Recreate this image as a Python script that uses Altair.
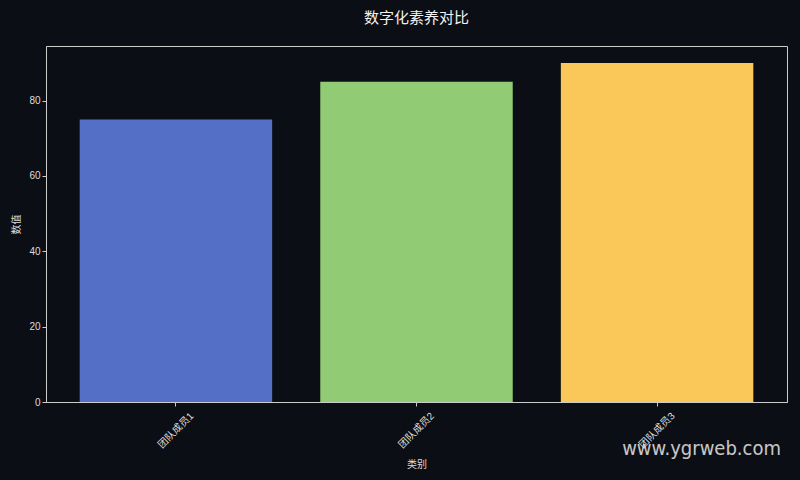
import altair as alt
import pandas as pd

categories = ["团队成员1", "团队成员2", "团队成员3"]
values = [75, 85, 90]
colors = ["#5470c6", "#91cc75", "#fac858"]

df = pd.DataFrame({"类别": categories, "数值": values})

FONT = "Liberation Sans, Noto Sans CJK SC"
TXT = "#dddddd"
BG = "#0b0e14"

bars = alt.Chart(df).mark_bar().encode(
    x=alt.X("类别:N", sort=categories,
            scale=alt.Scale(paddingInner=0.2, paddingOuter=0.14),
            axis=alt.Axis(labelAngle=-45, labelAlign="center", labelBaseline="middle",
                          labelPadding=24, tickSize=4, title="类别", titlePadding=10)),
    y=alt.Y("数值:Q", scale=alt.Scale(domain=[0, 94.5], nice=False),
            axis=alt.Axis(values=[0, 20, 40, 60, 80], tickSize=4, title="数值",
                          titlePadding=7, grid=False)),
    color=alt.Color("类别:N", scale=alt.Scale(domain=categories, range=colors), legend=None),
)

wm = alt.Chart(pd.DataFrame({"t": ["www.ygrweb.com"]})).mark_text(
    align="right", baseline="middle", fontSize=20, color="#e8e8e8", opacity=0.85,
    font="DejaVu Sans Condensed, DejaVu Sans"
).encode(text="t:N", x=alt.value(735), y=alt.value(403))

chart = alt.layer(bars, wm).properties(
    width=741, height=356,
    title=alt.TitleParams("数字化素养对比", fontSize=15, color="#f2f2f2", font=FONT,
                          fontWeight="normal", offset=20, anchor="middle"),
    background=BG,
    padding={"left": 38, "top": 38, "right": 5, "bottom": 70},
    autosize=alt.AutoSizeParams(type="none"),
).configure_view(stroke="#cccccc", strokeWidth=1).configure_axis(
    labelColor=TXT, titleColor=TXT, labelFont=FONT, titleFont=FONT,
    labelFontSize=10, titleFontSize=10, titleFontWeight="normal",
    domainColor="#cccccc", tickColor="#cccccc", grid=False,
)

chart.save("out.html", embed_options={"renderer": "svg", "actions": False,
                                      "defaultStyle": "body{background:#0b0e14;}"})
